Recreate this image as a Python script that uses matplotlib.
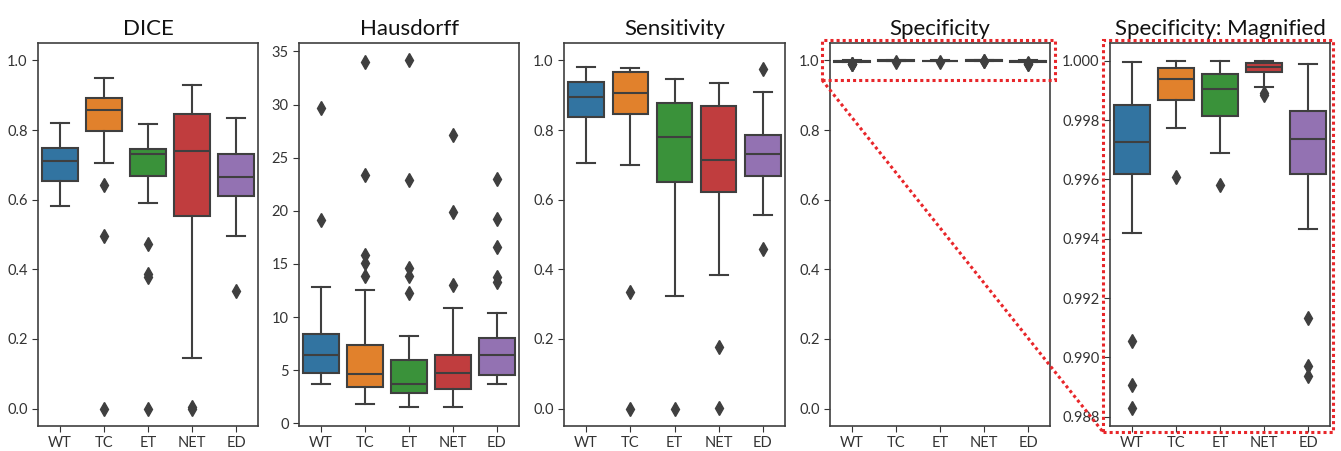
import matplotlib.pyplot as plt
from matplotlib.patches import Rectangle
from matplotlib.lines import Line2D

plt.rcParams['font.family'] = ['Lato', 'DejaVu Sans']

regions = ['WT', 'TC', 'ET', 'NET', 'ED']
colors = ['#3274a1', '#e1812c', '#3a923a', '#c03d3e', '#9372b2']
edge = '#3f3f3f'

# box stats: whislo, q1, med, q3, whishi
dice_lo = [0.583, 0.704, 0.590, 0.146, 0.495]
dice_q1 = [0.655, 0.798, 0.668, 0.554, 0.611]
dice_med = [0.711, 0.859, 0.732, 0.740, 0.664]
dice_q3 = [0.747, 0.893, 0.745, 0.846, 0.730]
dice_hi = [0.819, 0.949, 0.816, 0.928, 0.835]
dice_out = [[], [0.641, 0.495, 0.0], [0.473, 0.387, 0.378, 0.0], [0.005, 0.0], [0.339]]

haus_lo = [3.68, 1.81, 1.56, 1.56, 3.68]
haus_q1 = [4.70, 3.40, 2.87, 3.21, 4.58]
haus_med = [6.42, 4.64, 3.71, 4.77, 6.42]
haus_q3 = [8.41, 7.35, 5.92, 6.39, 8.07]
haus_hi = [12.87, 12.55, 8.26, 10.84, 10.34]
haus_out = [[29.7, 19.1],
            [34.0, 23.4, 15.8, 15.1, 13.9],
            [34.2, 22.9, 14.6, 13.9, 12.3],
            [27.1, 19.9, 13.0],
            [23.0, 19.25, 16.6, 13.8, 13.3]]

sens_lo = [0.704, 0.701, 0.322, 0.383, 0.557]
sens_q1 = [0.838, 0.846, 0.652, 0.622, 0.668]
sens_med = [0.896, 0.906, 0.779, 0.714, 0.732]
sens_q3 = [0.937, 0.966, 0.879, 0.868, 0.786]
sens_hi = [0.982, 0.979, 0.946, 0.934, 0.908]
sens_out = [[], [0.336, 0.0], [0.0], [0.176, 0.003], [0.976, 0.458]]

spec_lo = [0.99420, 0.99774, 0.99688, 0.99913, 0.99433]
spec_q1 = [0.99620, 0.99867, 0.99813, 0.99963, 0.99620]
spec_med = [0.99727, 0.99939, 0.99904, 0.99978, 0.99737]
spec_q3 = [0.99851, 0.99975, 0.99955, 0.99993, 0.99830]
spec_hi = [0.99995, 1.00000, 0.99998, 1.00000, 0.99989]
spec_out = [[0.99056, 0.98907, 0.98828], [0.99610], [0.99581],
            [0.99891, 0.99885], [0.99132, 0.98972, 0.98936]]


def make_stats(lo, q1, med, q3, hi, out):
    return [dict(whislo=lo[i], q1=q1[i], med=med[i], q3=q3[i], whishi=hi[i],
                 fliers=out[i], label=regions[i]) for i in range(len(regions))]


def draw_box(ax, stats, title, ylim, yticks=None, fmt=None):
    bp = ax.bxp(stats, positions=range(len(stats)), widths=0.8, patch_artist=True,
                boxprops=dict(edgecolor=edge, linewidth=1.5),
                medianprops=dict(color=edge, linewidth=1.5),
                whiskerprops=dict(color=edge, linewidth=1.5),
                capprops=dict(color=edge, linewidth=1.5),
                flierprops=dict(marker='d', markerfacecolor=edge, markeredgecolor=edge,
                                markersize=7))
    for patch, c in zip(bp['boxes'], colors):
        patch.set_facecolor(c)
    for cap in bp['caps']:
        xd = cap.get_xdata()
        mid = (xd[0] + xd[1]) / 2
        cap.set_xdata([mid - 0.2, mid + 0.2])
    ax.set_xlim(-0.5, len(stats) - 0.5)
    ax.set_ylim(*ylim)
    if yticks is not None:
        ax.set_yticks(yticks)
    if fmt is not None:
        ax.yaxis.set_major_formatter(plt.FormatStrFormatter(fmt))
    ax.set_title(title, fontsize=16, color='#111111')
    ax.tick_params(labelsize=10.5, colors='#333333', length=4)
    for sp in ax.spines.values():
        sp.set_color(edge)
        sp.set_linewidth(1.2)


fig = plt.figure(figsize=(13.41, 4.51), dpi=100)
W, H = 1341, 451
lefts = [38, 299, 564, 830, 1110]
widths = [220, 220, 221, 220, 220]
axes = [fig.add_axes([l / W, 25 / H, w / W, 383 / H]) for l, w in zip(lefts, widths)]

unit = [0.0, 0.2, 0.4, 0.6, 0.8, 1.0]
draw_box(axes[0], make_stats(dice_lo, dice_q1, dice_med, dice_q3, dice_hi, dice_out),
         'DICE', (-0.05, 1.05), unit, '%.1f')
draw_box(axes[1], make_stats(haus_lo, haus_q1, haus_med, haus_q3, haus_hi, haus_out),
         'Hausdorff', (-0.25, 35.8), [0, 5, 10, 15, 20, 25, 30, 35])
draw_box(axes[2], make_stats(sens_lo, sens_q1, sens_med, sens_q3, sens_hi, sens_out),
         'Sensitivity', (-0.05, 1.05), unit, '%.1f')
draw_box(axes[3], make_stats(spec_lo, spec_q1, spec_med, spec_q3, spec_hi, spec_out),
         'Specificity', (-0.05, 1.05), unit, '%.1f')
draw_box(axes[4], make_stats(spec_lo, spec_q1, spec_med, spec_q3, spec_hi, spec_out),
         'Specificity: Magnified', (0.98769, 1.0006),
         [0.988, 0.990, 0.992, 0.994, 0.996, 0.998, 1.000], '%.3f')

# red dotted zoom indicators
red = dict(edgecolor='#e8262a', facecolor='none', linestyle=(0, (1, 1)), linewidth=2.2,
           transform=fig.transFigure, clip_on=False)
fig.patches.append(Rectangle((822 / W, 1 - 80 / H), 233 / W, 40 / H, **red))
fig.patches.append(Rectangle((1103 / W, 1 - 432 / H), 230 / W, 392 / H, **red))
fig.lines.append(Line2D([822 / W, 1103 / W], [1 - 80 / H, 1 - 432 / H],
                        color='#e8262a', linestyle=(0, (1, 1)), linewidth=2.2,
                        transform=fig.transFigure))

fig.savefig('out.png', dpi=100)
